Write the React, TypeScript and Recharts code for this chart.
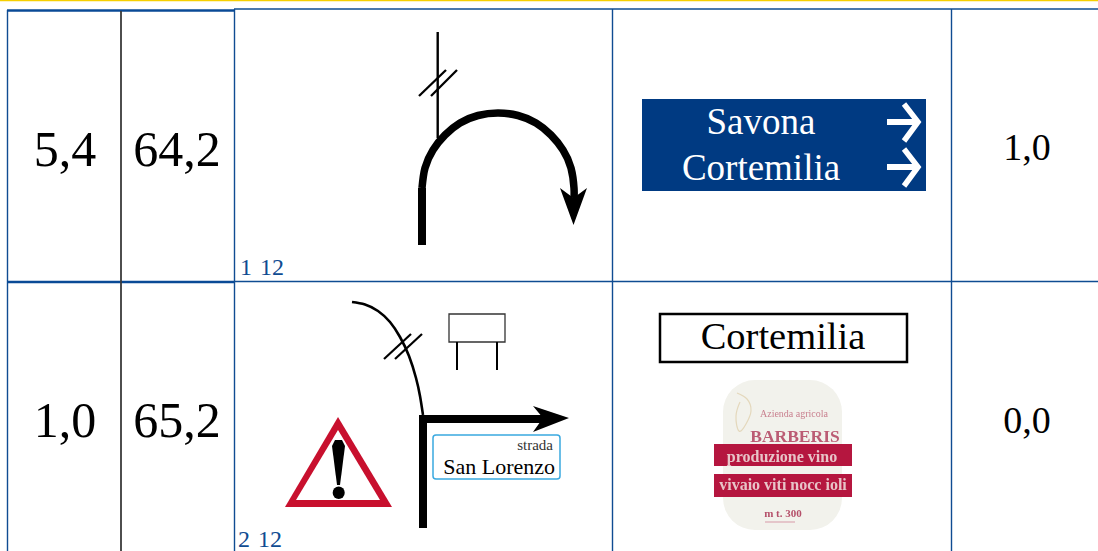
import React from "react";
import { ScatterChart, Scatter, XAxis, YAxis, ReferenceArea } from "recharts";

const W = 1098;
const H = 551;
const SERIF = "'Liberation Serif', serif";

const topBar = [{ x: 0, y: 0.5 }, { x: 1098, y: 0.5 }];

// table rules
const thinBlue = [
  [{ x: 234, y: 9 }, { x: 1098, y: 9 }],
  [{ x: 234, y: 281.5 }, { x: 1098, y: 281.5 }],
  [{ x: 234.5, y: 9 }, { x: 234.5, y: 551 }],
  [{ x: 612.5, y: 9 }, { x: 612.5, y: 551 }],
  [{ x: 951.5, y: 9 }, { x: 951.5, y: 551 }],
  [{ x: 7.5, y: 10 }, { x: 7.5, y: 551 }],
];
const thickBlue = [
  [{ x: 7, y: 10.5 }, { x: 234, y: 10.5 }],
  [{ x: 7, y: 282 }, { x: 234, y: 282 }],
];
const greyRule = [{ x: 121, y: 11 }, { x: 121, y: 551 }];

// cell texts
const bigNumbers = [
  { x: 65, y: 166, label: "5,4" },
  { x: 177, y: 166, label: "64,2" },
  { x: 65, y: 437, label: "1,0" },
  { x: 177, y: 437, label: "65,2" },
];
const rightNumbers = [
  { x: 1027, y: 160, label: "1,0" },
  { x: 1027, y: 433, label: "0,0" },
];
const rowTags = [
  { x: 240, y: 275, label: "1 12" },
  { x: 238, y: 547, label: "2 12" },
];
const townNames = [
  { x: 761, y: 134, label: "Savona" },
  { x: 761, y: 180, label: "Cortemilia" },
];
const boxedTown = [{ x: 783, y: 349, label: "Cortemilia" }];
const streetSmall = [{ x: 553, y: 450, label: "strada" }];
const streetName = [{ x: 555, y: 474, label: "San Lorenzo" }];

// first sketch: hairpin
const hairpinThin = [{ x: 437.7, y: 32 }, { x: 437.7, y: 138 }];
const hairpinStem = [{ x: 422, y: 245 }, { x: 422, y: 188 }];
const hairpinRoad = [
  { x: 422, y: 188 }, { x: 425, y: 168 }, { x: 433, y: 150 }, { x: 445, y: 135 },
  { x: 460, y: 123 }, { x: 478, y: 115.5 }, { x: 498, y: 113 }, { x: 518, y: 115.5 },
  { x: 536, y: 123 }, { x: 551, y: 135 }, { x: 563, y: 150 }, { x: 571, y: 168 },
  { x: 574, y: 188 }, { x: 574, y: 198 },
];
const hairpinHead = [
  { x: 560, y: 188 }, { x: 573.5, y: 198 }, { x: 587, y: 188 }, { x: 573.5, y: 225 },
];
const hairpinTicks = [
  [{ x: 419, y: 96 }, { x: 446, y: 70 }],
  [{ x: 431, y: 96 }, { x: 457, y: 70 }],
];

// second sketch: junction
const sideRoad = [
  { x: 352, y: 302 }, { x: 365, y: 304.5 }, { x: 378, y: 311 }, { x: 390, y: 322 },
  { x: 400, y: 337 }, { x: 409, y: 356 }, { x: 416, y: 378 }, { x: 420, y: 396 },
  { x: 423, y: 415 },
];
const sideTicks = [
  [{ x: 384, y: 359 }, { x: 411, y: 334 }],
  [{ x: 395, y: 359 }, { x: 422, y: 334 }],
];
const mainRoad = [{ x: 423, y: 528 }, { x: 423, y: 419 }, { x: 545, y: 419 }];
const mainHead = [
  { x: 533, y: 406 }, { x: 569, y: 418 }, { x: 533, y: 432 }, { x: 543, y: 418 },
];
const signLegs = [
  [{ x: 457, y: 342 }, { x: 457, y: 370 }],
  [{ x: 497, y: 342 }, { x: 497, y: 370 }],
];
const warnOuter = [{ x: 338, y: 417 }, { x: 392, y: 507 }, { x: 285, y: 507 }];
const warnInner = [{ x: 338, y: 430 }, { x: 380, y: 500 }, { x: 296, y: 500 }];
const warnBar = [
  { x: 332, y: 446 }, { x: 335, y: 440 }, { x: 342, y: 440 }, { x: 345, y: 446 },
  { x: 340, y: 485 }, { x: 337, y: 485 },
];
const warnDot = [{ x: 338.7, y: 492.5 }, { x: 338.7, y: 493 }];

// white arrows on the blue sign
const arrowShafts = [
  [{ x: 887, y: 122 }, { x: 916, y: 122 }],
  [{ x: 887, y: 167 }, { x: 916, y: 167 }],
];
const arrowHeads = [
  [{ x: 904, y: 104 }, { x: 918, y: 122 }, { x: 904, y: 141 }],
  [{ x: 904, y: 149 }, { x: 918, y: 167 }, { x: 904, y: 186 }],
];

// boxes: x1, x2, y1, y2
const blueSign = { x1: 642, x2: 926, y1: 99, y2: 191 };
const townBox = { x1: 660, x2: 907, y1: 314, y2: 362 };
const streetBox = { x1: 433, x2: 560, y1: 435, y2: 479 };
const billboard = { x1: 449, x2: 505, y1: 314, y2: 342 };
const wineLabel = { x1: 723, x2: 842, y1: 380, y2: 530 };
const wineBands = [
  { x1: 714, x2: 852, y1: 444, y2: 466 },
  { x1: 714, x2: 852, y1: 474, y2: 497 },
];

// wine label drawing and texts
const labelScroll = [
  { x: 737, y: 393 }, { x: 747, y: 399 }, { x: 751, y: 411 }, { x: 746, y: 424 },
  { x: 739, y: 431 }, { x: 736, y: 416 }, { x: 740, y: 402 },
];
const labelArrow = [{ x: 765, y: 522 }, { x: 795, y: 522 }];
const labelSmall = [{ x: 794, y: 417, label: "Azienda  agricola" }];
const labelHeight = [{ x: 783, y: 517, label: "m t. 300" }];
const labelName = [{ x: 795, y: 442, label: "BARBERIS" }];
const labelBands = [
  { x: 782, y: 462, label: "produzione  vino" },
  { x: 783, y: 490, label: "vivaio viti nocc ioli" },
];

type TextStyle = {
  size: number;
  color: string;
  anchor?: "start" | "middle" | "end";
  weight?: number;
  spacing?: number;
  blur?: number;
};

const textShape = ({ size, color, anchor = "middle", weight = 400, spacing = 0, blur = 0 }: TextStyle) =>
  (props: any) => (
    <text
      x={props.cx}
      y={props.cy}
      fontFamily={SERIF}
      fontSize={size}
      fill={color}
      textAnchor={anchor}
      fontWeight={weight}
      style={{ wordSpacing: spacing, filter: blur ? `blur(${blur}px)` : undefined }}
    >
      {props.payload.label}
    </text>
  );

const noDot = () => <g />;

const stroked = (data: any[], stroke: string, width: number, key: string, joint = "linear", cap = "butt") => (
  <Scatter
    key={key}
    data={data}
    shape={noDot}
    isAnimationActive={false}
    line={{ stroke, strokeWidth: width, strokeLinecap: cap, strokeLinejoin: "miter", fill: "none" }}
    lineJointType={joint as any}
  />
);

const filled = (data: any[], color: string, key: string) => (
  <Scatter
    key={key}
    data={data}
    shape={noDot}
    isAnimationActive={false}
    line={{ stroke: "none", fill: color }}
  />
);

const texts = (data: any[], style: TextStyle, key: string) => (
  <Scatter key={key} data={data} shape={textShape(style)} isAnimationActive={false} />
);

const App = () => {
  return (
    <div style={{ position: "absolute", left: 0, top: 0, width: W, height: H, background: "#fff", overflow: "hidden" }}>
      <ScatterChart width={W} height={H} margin={{ top: 0, right: 0, bottom: 0, left: 0 }}>
        <XAxis type="number" dataKey="x" domain={[0, W]} hide />
        <YAxis type="number" dataKey="y" domain={[0, H]} reversed hide />

        <ReferenceArea {...blueSign} fill="#003a82" fillOpacity={1} stroke="none" />
        <ReferenceArea {...townBox} fill="#fff" fillOpacity={1} stroke="#000" strokeWidth={2.5} />
        <ReferenceArea {...streetBox} fill="#fff" fillOpacity={1} stroke="#3aa9e0" strokeWidth={1.5} radius={3} />
        <ReferenceArea {...billboard} fill="#fff" fillOpacity={1} stroke="#333" strokeWidth={1.3} />
        <ReferenceArea {...wineLabel} fill="#f2f2ec" fillOpacity={1} stroke="none" radius={32} />
        {wineBands.map((b, i) => (
          <ReferenceArea key={"band" + i} {...b} fill="#b5163f" fillOpacity={1} stroke="none" />
        ))}

        {stroked(topBar, "#f6cf00", 1.5, "top")}
        {thinBlue.map((l, i) => stroked(l, "#0f4c92", 1.4, "thin" + i))}
        {thickBlue.map((l, i) => stroked(l, "#0a4a96", 2.4, "thick" + i))}
        {stroked(greyRule, "#3a3a3a", 1.8, "grey")}

        {stroked(hairpinThin, "#000", 2.4, "hpThin")}
        {stroked(hairpinStem, "#000", 8, "hpStem")}
        {stroked(hairpinRoad, "#000", 7.5, "hpRoad", "natural")}
        {filled(hairpinHead, "#000", "hpHead")}
        {hairpinTicks.map((l, i) => stroked(l, "#000", 2.3, "hpTick" + i))}

        {stroked(sideRoad, "#000", 2.6, "side", "natural")}
        {sideTicks.map((l, i) => stroked(l, "#000", 2.2, "sideTick" + i))}
        {stroked(mainRoad, "#000", 8, "main")}
        {filled(mainHead, "#000", "mainHead")}
        {signLegs.map((l, i) => stroked(l, "#000", 2, "leg" + i))}

        {filled(warnOuter, "#c8102e", "warnOut")}
        {filled(warnInner, "#fff", "warnIn")}
        {filled(warnBar, "#000", "warnBar")}
        {stroked(warnDot, "#000", 12, "warnDot", "linear", "round")}

        {arrowShafts.map((l, i) => stroked(l, "#fff", 6, "shaft" + i))}
        {arrowHeads.map((l, i) => stroked(l, "#fff", 5.5, "head" + i))}

        {stroked(labelScroll, "#e4d8bc", 1.2, "scroll", "natural")}
        {stroked(labelArrow, "#d79aa8", 1, "lblArrow")}

        {texts(bigNumbers, { size: 50, color: "#000" }, "big")}
        {texts(rightNumbers, { size: 38, color: "#000" }, "right")}
        {texts(rowTags, { size: 24, color: "#0f4c92", anchor: "start", spacing: 2 }, "tags")}
        {texts(townNames, { size: 37, color: "#fff" }, "towns")}
        {texts(boxedTown, { size: 38.5, color: "#000" }, "boxed")}
        {texts(streetSmall, { size: 15, color: "#333", anchor: "end" }, "small")}
        {texts(streetName, { size: 22, color: "#000", anchor: "end" }, "street")}
        {texts(labelSmall, { size: 10, color: "#c9808f", blur: 0.4 }, "lblSmall")}
        {texts(labelHeight, { size: 11, color: "#b5506a", weight: 700, blur: 0.4 }, "lblHeight")}
        {texts(labelName, { size: 17.5, color: "#bb5c74", weight: 700, blur: 0.4 }, "lblName")}
        {texts(labelBands, { size: 16, color: "#e8c4c8", weight: 700, blur: 0.4 }, "lblBands")}
      </ScatterChart>
    </div>
  );
};

export default App;
